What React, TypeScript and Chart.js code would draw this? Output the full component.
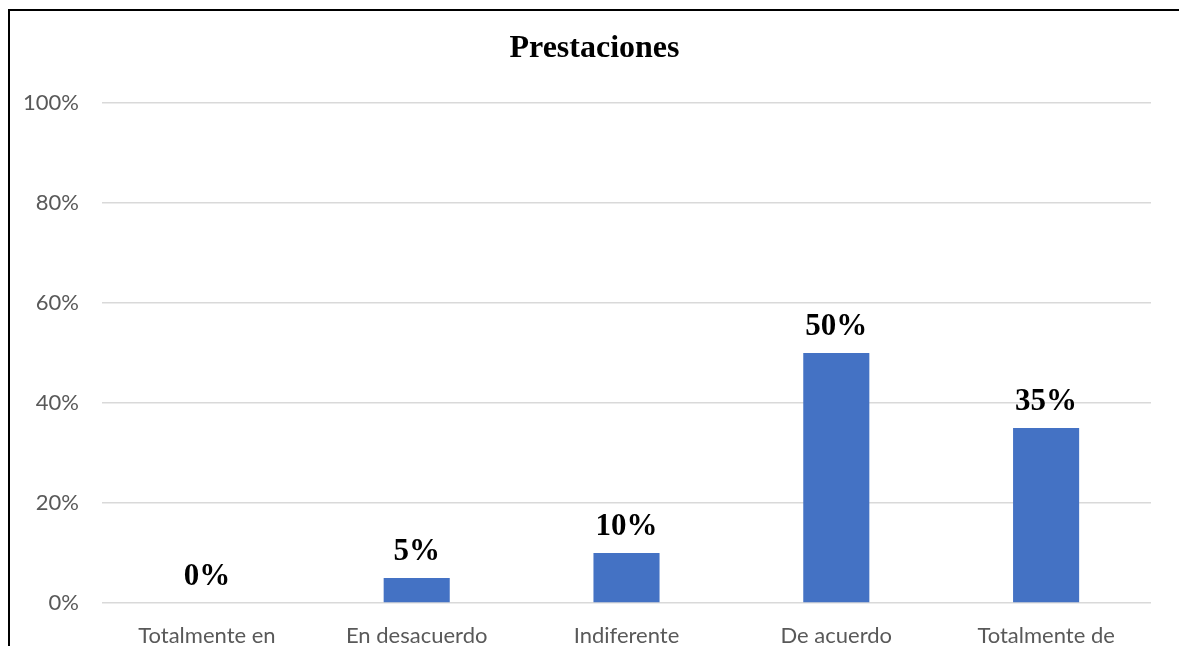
import React, { useEffect, useRef } from "react";
import { Chart, registerables } from "chart.js";

Chart.register(...registerables);

// Survey answers and their share of responses (%)
const categories: string[][] = [
  ["Totalmente en", "desacuerdo"],
  ["En desacuerdo"],
  ["Indiferente"],
  ["De acuerdo"],
  ["Totalmente de", "acuerdo"],
];
const shares: number[] = [0, 5, 10, 50, 35];
const yTicks: number[] = [0, 20, 40, 60, 80, 100];
const chartTitle = "Prestaciones";

const CANVAS_W = 1179;
const CANVAS_H = 646;

// Outer frame of the chart box: top and left edges
const frame = {
  id: "frame",
  beforeDraw(chart: Chart) {
    const { ctx, width } = chart;
    ctx.save();
    ctx.fillStyle = "#ffffff";
    ctx.fillRect(0, 0, width, chart.height);
    ctx.fillStyle = "#000000";
    ctx.fillRect(8, 9, width - 8, 2);
    ctx.fillRect(8, 9, 2, chart.height - 9);
    ctx.restore();
  },
};

// Writes each bar's value above it
const valueLabels = {
  id: "valueLabels",
  afterDatasetsDraw(chart: Chart) {
    const { ctx } = chart;
    const meta = chart.getDatasetMeta(0);
    ctx.save();
    ctx.font = "bold 31px 'Liberation Serif', 'Times New Roman', serif";
    ctx.fillStyle = "#000000";
    ctx.textAlign = "center";
    ctx.textBaseline = "alphabetic";
    meta.data.forEach((bar: any, i: number) => {
      ctx.fillText(`${shares[i]}%`, bar.x, bar.y - 18);
    });
    ctx.restore();
  },
};

export default function App() {
  const canvasRef = useRef<HTMLCanvasElement | null>(null);

  useEffect(() => {
    document.body.style.overflow = "hidden";
    const canvas = canvasRef.current;
    if (!canvas) return;
    const chart = new Chart(canvas, {
      type: "bar",
      data: {
        labels: categories,
        datasets: [
          {
            data: shares,
            backgroundColor: "#4472C4",
            borderWidth: 0,
            barPercentage: 0.315,
            categoryPercentage: 1,
          },
        ],
      },
      options: {
        responsive: false,
        animation: false,
        devicePixelRatio: 1,
        layout: { padding: { left: 10, right: 0, top: 0, bottom: 0 } },
        plugins: {
          legend: { display: false },
          tooltip: { enabled: false },
          title: {
            display: true,
            text: chartTitle,
            color: "#000000",
            font: { family: "'Liberation Serif', 'Times New Roman', serif", size: 32, weight: "bold" },
            padding: { top: 30, bottom: 34.6 },
          },
        },
        scales: {
          x: {
            grid: { display: false },
            border: { display: false },
            ticks: {
              color: "#595959",
              font: { family: "Lato, 'Open Sans', sans-serif", size: 22 },
              padding: 12,
              maxRotation: 0,
              autoSkip: false,
            },
            afterFit(scale: any) {
              scale.height = 43;
            },
          },
          y: {
            min: 0,
            max: 100,
            afterBuildTicks(scale: any) {
              scale.ticks = yTicks.map((v) => ({ value: v }));
            },
            grid: { color: "#d9d9d9", lineWidth: 1.5, drawTicks: false },
            border: { display: false },
            ticks: {
              color: "#595959",
              font: { family: "Lato, 'Open Sans', sans-serif", size: 22 },
              padding: 23,
              callback: (v: any) => `${v}%`,
            },
            afterFit(scale: any) {
              scale.width = 92;
            },
          },
          yRight: {
            type: "linear",
            position: "right",
            min: 0,
            max: 100,
            grid: { display: false },
            border: { display: false },
            ticks: { display: false },
            afterFit(scale: any) {
              scale.width = 28;
            },
          },
        },
      },
      plugins: [frame, valueLabels],
    });
    return () => chart.destroy();
  }, []);

  return (
    <canvas
      ref={canvasRef}
      width={CANVAS_W}
      height={CANVAS_H}
      style={{ position: "fixed", left: 0, top: 0, display: "block", width: CANVAS_W, height: CANVAS_H }}
    />
  );
}
